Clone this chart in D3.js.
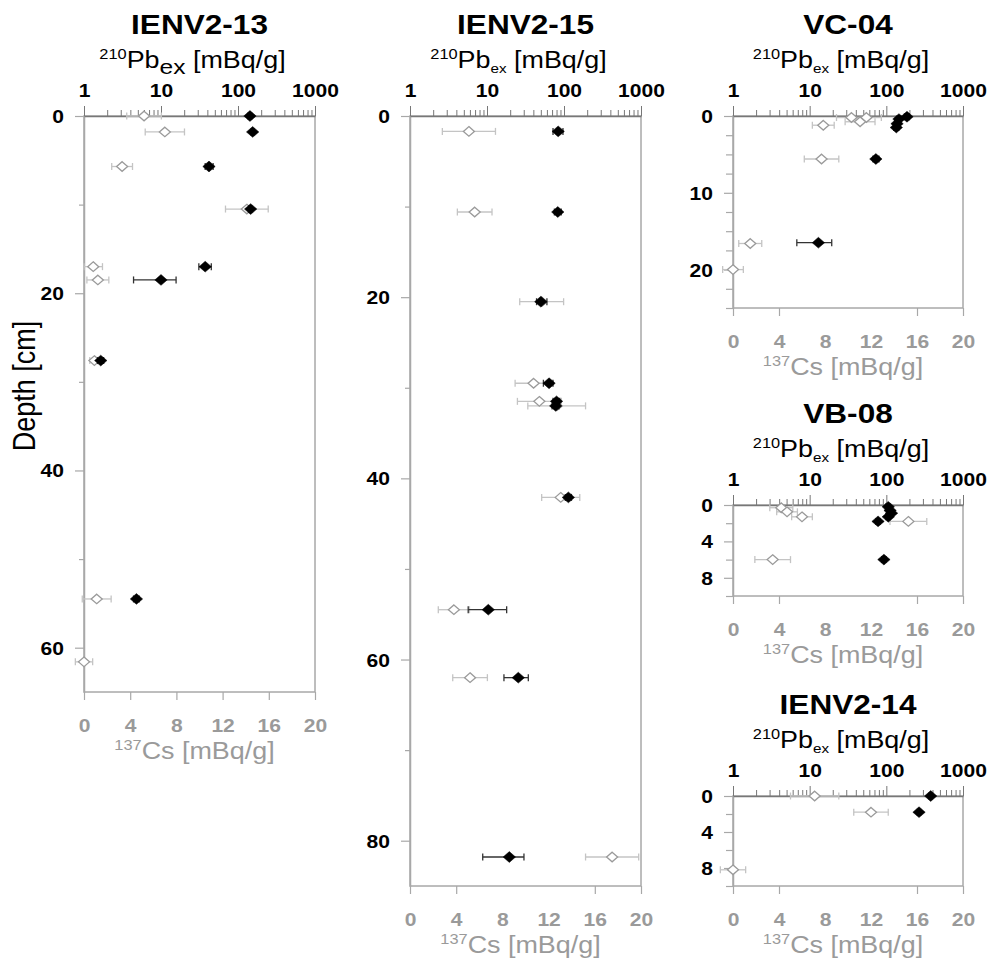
<!DOCTYPE html>
<html><head><meta charset="utf-8">
<script src="https://cdn.jsdelivr.net/npm/d3@7"></script>
<style>
body{margin:0;background:#fff;}
svg{display:block;font-family:"Liberation Sans",Arial,Helvetica,sans-serif;}
</style></head><body>
<svg id="chart" width="992" height="962"></svg>
<script>
// ---------- categories / axes ----------
const cores = ["IENV2-13", "IENV2-15", "VC-04", "VB-08", "IENV2-14"];
const depthMax = [65, 85, 25, 10, 10];
const depthTicks = [
  [0, 10, 20, 30, 40, 50, 60],
  [0, 10, 20, 30, 40, 50, 60, 70, 80],
  [0, 2.5, 5, 7.5, 10, 12.5, 15, 17.5, 20, 22.5, 25],
  [0, 2, 4, 6, 8, 10],
  [0, 2, 4, 6, 8, 10]
];
const depthLabels = [[0, 20, 40, 60], [0, 20, 40, 60, 80], [0, 10, 20], [0, 4, 8], [0, 4, 8]];
const pbTicks = [1, 2, 3, 4, 5, 6, 7, 8, 9, 10, 20, 30, 40, 50, 60, 70, 80, 90, 100,
  200, 300, 400, 500, 600, 700, 800, 900, 1000];
const pbLabels = [1, 10, 100, 1000];
const csTicks = [0, 4, 8, 12, 16, 20];
const csTickMarksRight = [0, 4, 16, 20];

// ---------- IENV2-13 ----------
const pbDepth13 = [0.0, 1.8, 5.7, 10.5, 17.0, 18.5, 27.6, 54.5];
const pbValue13 = [143, 155, 42, 146, 37.5, 10, 1.65, 4.8];
const pbLow13   = [135, 147, 37.5, 138, 31, 4.4, 1.5, 4.4];
const pbHigh13  = [151, 163, 47.5, 154, 45, 15.7, 1.8, 5.2];
const csDepth13 = [0.0, 1.8, 5.7, 10.5, 17.0, 18.5, 27.6, 54.5, 61.6];
const csValue13 = [5.2, 7.0, 3.3, 14.1, 0.8, 1.2, 0.9, 1.1, 0.0];
const csErr13   = [1.5, 1.7, 0.9, 1.85, 0.8, 0.95, 0.4, 1.25, 0.75];

// ---------- IENV2-15 ----------
const pbDepth15 = [1.7, 10.6, 20.5, 29.5, 31.5, 32.0, 42.1, 54.5, 62.0, 81.8];
const pbValue15 = [84, 83, 50, 64, 80, 78, 114, 10.4, 25.5, 19.5];
const pbLow15   = [72, 75, 44, 54, 72, 70, 104, 5.7, 16.6, 8.8];
const pbHigh15  = [97, 92, 60, 72, 88, 86, 125, 18, 34.4, 30.2];
const csDepth15 = [1.7, 10.6, 20.5, 29.5, 31.5, 32.0, 42.1, 54.5, 62.0, 81.8];
const csValue15 = [5.1, 5.6, 11.4, 10.7, 11.2, 12.7, 13.05, 3.8, 5.2, 17.5];
const csErr15   = [2.3, 1.5, 1.9, 1.6, 1.9, 2.5, 1.65, 1.35, 1.5, 2.3];

// ---------- VC-04 ----------
const pbDepthVC04 = [0.1, 0.4, 1.0, 1.5, 5.6, 16.5];
const pbValueVC04 = [186, 146, 138, 135, 73, 13];
const pbLowVC04   = [172, 136, 128, 125, 67, 6.8];
const pbHighVC04  = [200, 156, 148, 145, 80, 19.4];
const csDepthVC04 = [0.2, 0.2, 0.75, 1.2, 5.6, 16.6, 20.0];
const csValueVC04 = [10.3, 11.6, 11.05, 7.85, 7.7, 1.5, 0.0];
const csErrVC04   = [1.3, 1.3, 1.3, 0.95, 1.5, 1.0, 0.9];

// ---------- VB-08 ----------
const pbDepthVB08 = [0.2, 0.6, 0.9, 1.3, 1.8, 6.0];
const pbValueVB08 = [106, 112, 117, 106, 78, 93];
const pbLowVB08   = [99, 105, 110, 99, 73, 87];
const pbHighVB08  = [113, 119, 124, 113, 83, 99];
const csDepthVB08 = [0.3, 0.75, 1.3, 1.8, 6.0];
const csValueVB08 = [4.2, 4.7, 6.0, 15.25, 3.45];
const csErrVB08   = [1.0, 0.9, 0.9, 1.6, 1.55];

// ---------- IENV2-14 ----------
const pbDepth14 = [0.0, 1.8];
const pbValue14 = [379, 267];
const pbLow14   = [360, 254];
const pbHigh14  = [398, 280];
const csDepth14 = [0.0, 1.8, 8.2];
const csValue14 = [7.1, 12.0, 0.0];
const csErr14   = [2.1, 1.5, 1.1];

const pbSets = [
  [pbDepth13, pbValue13, pbLow13, pbHigh13],
  [pbDepth15, pbValue15, pbLow15, pbHigh15],
  [pbDepthVC04, pbValueVC04, pbLowVC04, pbHighVC04],
  [pbDepthVB08, pbValueVB08, pbLowVB08, pbHighVB08],
  [pbDepth14, pbValue14, pbLow14, pbHigh14]
];
const csSets = [
  [csDepth13, csValue13, csErr13],
  [csDepth15, csValue15, csErr15],
  [csDepthVC04, csValueVC04, csErrVC04],
  [csDepthVB08, csValueVB08, csErrVB08],
  [csDepth14, csValue14, csErr14]
];

// ---------- layout ----------
const SX = 1.17; // horizontal text stretch of the original
const panels = [
  {x0: 84,  x1: 315, y0: 116, y1: 692, big: true,  bigEx: true},
  {x0: 410, x1: 641, y0: 116, y1: 886, big: true,  bigEx: false},
  {x0: 733, x1: 963, y0: 116, y1: 308, big: false, bigEx: false},
  {x0: 733, x1: 963, y0: 505, y1: 596, big: false, bigEx: false},
  {x0: 733, x1: 963, y0: 796, y1: 886, big: false, bigEx: false}
];
const GRAY_TXT = "#9a9a9a", FRAME = "#a8a8a8", CS_BAR = "#c4c4c4", CS_MK = "#9a9a9a";
const TICK_FS = 18;

const svg = d3.select("#chart");

function stext(sel, x, y, anchor) {
  return sel.append("text")
    .attr("transform", `translate(${x},${y}) scale(${SX},1)`)
    .attr("text-anchor", anchor);
}

function diamond(w, h) {
  return `M0,${-h}L${w},0L0,${h}L${-w},0Z`;
}

// Depth label
stext(svg, 35, 386, "middle")
  .attr("transform", `translate(35,386) scale(${SX},1) rotate(-90)`)
  .attr("font-size", 27).attr("fill", "#000").text("Depth [cm]");

panels.forEach((p, i) => {
  const g = svg.append("g");
  const cx = (p.x0 + p.x1) / 2;
  const xl = d3.scaleLog().domain([1, 1000]).range([p.x0, p.x1]);
  const xc = d3.scaleLinear().domain([0, 20]).range([p.x0, p.x1]);
  const y = d3.scaleLinear().domain([0, depthMax[i]]).range([p.y0, p.y1]);

  // Title
  stext(g, cx, p.y0 - 82, "middle").attr("font-size", 27).attr("font-weight", "bold")
    .attr("fill", "#000").text(cores[i]);

  // Pb label
  const pt = stext(g, cx - 7, p.y0 - 48, "middle").attr("font-size", 23).attr("fill", "#000");
  pt.append("tspan").attr("font-size", 14).attr("dy", -9).text("210");
  pt.append("tspan").attr("dy", 9).text("Pb");
  if (p.bigEx) {
    pt.append("tspan").attr("font-size", 21).attr("dy", 6).text("ex");
    pt.append("tspan").attr("dy", -6).text(" [mBq/g]");
  } else {
    pt.append("tspan").attr("font-size", 13).attr("dy", 5).text("ex");
    pt.append("tspan").attr("dy", -5).text(" [mBq/g]");
  }

  // Frame (right + bottom + left)
  g.append("rect").attr("x", p.x0).attr("y", p.y0).attr("width", p.x1 - p.x0)
    .attr("height", p.y1 - p.y0).attr("fill", "none").attr("stroke", FRAME).attr("stroke-width", 1.5);

  // Bottom Cs axis
  const bax = g.append("g").attr("transform", `translate(0,${p.y1})`)
    .call(d3.axisBottom(xc).tickValues(csTicks).tickSize(8).tickSizeOuter(0).tickFormat(d3.format("d")));
  bax.select(".domain").remove();
  bax.selectAll(".tick line").attr("stroke", FRAME).attr("stroke-width", 1.2)
    .attr("display", d => (i === 0 || csTickMarksRight.includes(d)) ? null : "none");
  bax.selectAll(".tick text").attr("y", 40).attr("dy", 0).attr("transform", `scale(${SX},1)`)
    .attr("font-size", TICK_FS).attr("font-weight", "bold").attr("fill", GRAY_TXT)
    .attr("font-family", "Liberation Sans, Arial, sans-serif");

  // Cs label
  const ct = stext(g, cx - 5, p.y1 + 67, "middle").attr("font-size", 23).attr("fill", GRAY_TXT);
  ct.append("tspan").attr("font-size", 14).attr("dy", -9).text("137");
  ct.append("tspan").attr("dy", 9).text("Cs [mBq/g]");

  // Left depth axis
  const lax = g.append("g").attr("transform", `translate(${p.x0},0)`)
    .call(d3.axisLeft(y).tickValues(depthTicks[i]).tickSizeOuter(0)
      .tickFormat(d => depthLabels[i].includes(d) ? d3.format("d")(d) : ""));
  lax.select(".domain").attr("stroke", FRAME).attr("stroke-width", 1.5);
  lax.selectAll(".tick line").attr("stroke", FRAME).attr("stroke-width", 1.2)
    .attr("x2", d => depthLabels[i].includes(d) ? -9 : (p.big ? -5 : -7));
  lax.selectAll(".tick text").attr("x", -20 / SX).attr("dy", "0.36em").attr("transform", `scale(${SX},1)`)
    .attr("font-size", TICK_FS).attr("font-weight", "bold").attr("fill", "#000")
    .attr("font-family", "Liberation Sans, Arial, sans-serif");

  // Top Pb log axis
  const tax = g.append("g").attr("transform", `translate(0,${p.y0})`)
    .call(d3.axisTop(xl).tickValues(pbTicks).tickSizeOuter(0)
      .tickFormat(d => pbLabels.includes(d) ? d3.format("d")(d) : ""));
  tax.select(".domain").attr("stroke", "#777").attr("stroke-width", 1.3);
  tax.selectAll(".tick line").attr("stroke", "#777").attr("stroke-width", 1)
    .attr("y2", d => pbLabels.includes(d) ? -10 : -6);
  tax.selectAll(".tick text").attr("y", -19).attr("dy", 0).attr("transform", `scale(${SX},1)`)
    .attr("font-size", TICK_FS).attr("font-weight", "bold").attr("fill", "#000")
    .attr("font-family", "Liberation Sans, Arial, sans-serif");

  // Cs data (gray, open)
  const [cd, cv, ce] = csSets[i];
  const csData = cd.map((d, k) => ({d, v: cv[k], e: ce[k]}));
  const cg = g.append("g");
  csData.forEach(o => {
    const yy = y(o.d);
    const xa = xc(o.v - o.e), xb = xc(o.v + o.e);
    cg.append("line").attr("x1", xa).attr("x2", xb).attr("y1", yy).attr("y2", yy)
      .attr("stroke", CS_BAR).attr("stroke-width", 1.3);
    [xa, xb].forEach(xx => cg.append("line").attr("x1", xx).attr("x2", xx)
      .attr("y1", yy - 3.5).attr("y2", yy + 3.5).attr("stroke", CS_BAR).attr("stroke-width", 1.3));
  });
  cg.selectAll("path.cs").data(csData).join("path").attr("class", "cs")
    .attr("transform", o => `translate(${xc(o.v)},${y(o.d)})`)
    .attr("d", diamond(5.5, 4.8)).attr("fill", "#fff").attr("stroke", CS_MK).attr("stroke-width", 1.3);

  // Pb data (black, filled)
  const [pd, pv, plo, phi] = pbSets[i];
  const pbData = pd.map((d, k) => ({d, v: pv[k], lo: plo[k], hi: phi[k]}));
  const pg = g.append("g");
  pbData.forEach(o => {
    const yy = y(o.d);
    const xa = xl(o.lo), xb = xl(o.hi);
    pg.append("line").attr("x1", xa).attr("x2", xb).attr("y1", yy).attr("y2", yy)
      .attr("stroke", "#333").attr("stroke-width", 1.3);
    [xa, xb].forEach(xx => pg.append("line").attr("x1", xx).attr("x2", xx)
      .attr("y1", yy - 3.5).attr("y2", yy + 3.5).attr("stroke", "#333").attr("stroke-width", 1.3));
  });
  pg.selectAll("path.pb").data(pbData).join("path").attr("class", "pb")
    .attr("transform", o => `translate(${xl(o.v)},${y(o.d)})`)
    .attr("d", diamond(6.2, 5.4)).attr("fill", "#000").attr("stroke", "#000").attr("stroke-width", 0.5);
});
</script>
</body></html>
